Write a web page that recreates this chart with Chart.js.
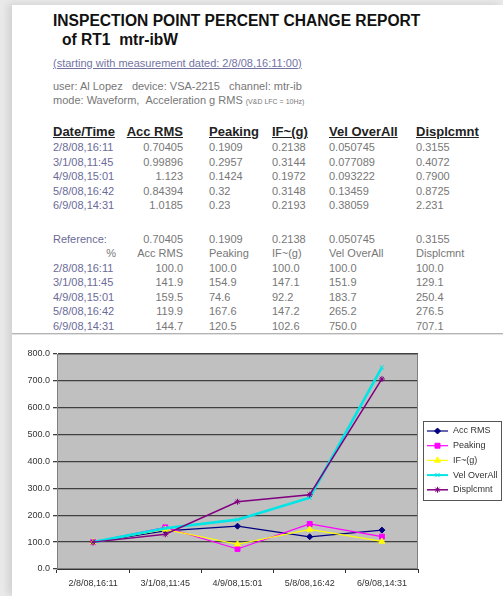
<!DOCTYPE html>
<html lang="en">
<head>
<meta charset="utf-8" />
<title>Inspection point percent change report</title>
<script src="https://cdn.jsdelivr.net/npm/chart.js@4.4.1/dist/chart.umd.min.js"></script>
<style>
  body { margin:0; width:503px; height:596px; position:relative; overflow:hidden;
         background:#e9e9e9; font-family:'Liberation Sans', Arial, sans-serif; }
  #page { position:absolute; left:12px; top:5px; right:0; bottom:0; background:#fff;
          box-shadow:-4px -1px 7px rgba(0,0,0,0.10); }
  .t { position:absolute; white-space:nowrap; line-height:14px; height:14px; font-size:11px; color:#777; }
  .big { font-size:15.6px; font-weight:bold; color:#111; line-height:18px; height:18px; }
  .hd { font-size:13px; font-weight:bold; color:#222; text-decoration:underline; line-height:16px; height:16px; }
  .dt { color:#6b6b98; }
  .ln { color:#7373a3; text-decoration:underline; }
  #rule { position:absolute; left:12px; right:0; top:333px; height:1px; background:#b4b4b4; border-bottom:1px solid #e2e2e2; }
  #chartBox { position:absolute; left:12px; top:340px; width:491px; height:256px; }
</style>
</head>
<body>
<div id="page"></div>
<div id="rule"></div>
<div id="chartBox"><canvas id="pct"></canvas></div>

<script>
// ---- report data ----
var dates = ['2/8/08,16:11', '3/1/08,11:45', '4/9/08,15:01', '5/8/08,16:42', '6/9/08,14:31'];
var columns = ['Acc RMS', 'Peaking', 'IF~(g)', 'Vel OverAll', 'Displcmnt'];
var rawAccRms = ['0.70405', '0.99896', '1.123', '0.84394', '1.0185'];
var rawPeaking = ['0.1909', '0.2957', '0.1424', '0.32', '0.23'];
var rawIfG = ['0.2138', '0.3144', '0.1972', '0.3148', '0.2193'];
var rawVel = ['0.050745', '0.077089', '0.093222', '0.13459', '0.38059'];
var rawDisp = ['0.3155', '0.4072', '0.7900', '0.8725', '2.231'];
var reference = ['0.70405', '0.1909', '0.2138', '0.050745', '0.3155'];

// percent of reference (chart series)
var pctAccRms = [100.0, 141.9, 159.5, 119.9, 144.7];
var pctPeaking = [100.0, 154.9, 74.6, 167.6, 120.5];
var pctIfG = [100.0, 147.1, 92.2, 147.2, 102.6];
var pctVel = [100.0, 151.9, 183.7, 265.2, 750.0];
var pctDisp = [100.0, 129.1, 250.4, 276.5, 707.1];

var yTicks = [0, 100, 200, 300, 400, 500, 600, 700, 800];

// ---- report text ----
function put(str, x, cy, cls, right) {
    var d = document.createElement('div');
    d.className = 't ' + (cls || '');
    d.textContent = str;
    document.body.appendChild(d);
    var h = d.offsetHeight;
    d.style.top = (cy - h / 2) + 'px';
    if (right) d.style.right = (503 - x) + 'px';
    else d.style.left = x + 'px';
    return d;
}

put('INSPECTION POINT PERCENT CHANGE REPORT', 53, 21, 'big');
put('of RT1\u00a0\u00a0mtr-ibW', 62, 40, 'big');
put('(starting with measurement dated: 2/8/08,16:11:00)', 53, 63, 'ln');
put('user: Al Lopez\u00a0\u00a0\u00a0device: VSA-2215\u00a0\u00a0\u00a0channel: mtr-ib', 53, 86);
var mode = put('mode: Waveform,\u00a0\u00a0Acceleration g RMS\u00a0', 53, 100);
var small = document.createElement('span');
small.style.fontSize = '7px';
small.textContent = '(V&D LFC = 10Hz)';
mode.appendChild(small);

var colX = [183, 209, 272, 329, 416];
var rowGap = 14.5;
var raw = [rawAccRms, rawPeaking, rawIfG, rawVel, rawDisp];
var pct = [pctAccRms, pctPeaking, pctIfG, pctVel, pctDisp];

put('Date/Time', 53, 132, 'hd');
columns.forEach(function (c, j) { put(c, colX[j], 132, 'hd', j === 0); });
dates.forEach(function (d, i) {
    var y = 147 + i * rowGap;
    put(d, 53, y, 'dt');
    raw.forEach(function (col, j) { put(col[i], colX[j], y, '', j === 0); });
});

put('Reference:', 53, 239, 'dt');
reference.forEach(function (v, j) { put(v, colX[j], 239, '', j === 0); });
put('%', 116, 253, '', true);
columns.forEach(function (c, j) { put(c, colX[j], 253, '', j === 0); });
dates.forEach(function (d, i) {
    var y = 267.5 + i * rowGap;
    put(d, 53, y, 'dt');
    pct.forEach(function (col, j) { put(col[i].toFixed(1), colX[j], y, '', j === 0); });
});

// ---- chart ----
var plotBg = {
    id: 'plotBg',
    beforeDraw: function (chart) {
        var a = chart.chartArea, ctx = chart.ctx;
        ctx.save();
        ctx.fillStyle = '#c0c0c0';
        ctx.fillRect(a.left, a.top, a.right - a.left, a.bottom - a.top);
        ctx.restore();
    },
    beforeDatasetsDraw: function (chart) {
        var a = chart.chartArea, ctx = chart.ctx;
        ctx.save();
        ctx.strokeStyle = '#808080';
        ctx.lineWidth = 1;
        ctx.strokeRect(a.left + 0.5, a.top + 0.5, a.right - a.left - 1, a.bottom - a.top - 1);
        ctx.restore();
    }
};

// excel style legend: line sample + marker, boxed
var boxLegend = {
    id: 'boxLegend',
    afterDraw: function (chart) {
        var ctx = chart.ctx;
        var left = 411, top = 81, w = 78, h = 79;
        ctx.save();
        ctx.fillStyle = '#fff';
        ctx.fillRect(left, top, w, h);
        ctx.strokeStyle = '#555';
        ctx.lineWidth = 1;
        ctx.strokeRect(left + 0.5, top + 0.5, w, h);
        chart.data.datasets.forEach(function (ds, i) {
            var y = top + 10 + i * 14.7;
            ctx.strokeStyle = ds.borderColor;
            ctx.lineWidth = Math.min(ds.borderWidth, 2);
            ctx.beginPath();
            ctx.moveTo(left + 4, y);
            ctx.lineTo(left + 25, y);
            ctx.stroke();
            ctx.fillStyle = ds.pointBackgroundColor;
            ctx.strokeStyle = ds.pointBorderColor;
            ctx.lineWidth = 1;
            Chart.helpers.drawPoint(ctx, { pointStyle: ds.pointStyle, radius: ds.pointRadius, rotation: 0, borderWidth: 1 }, left + 14.5, y);
            ctx.fillStyle = '#333';
            ctx.font = '9px "Liberation Sans", Arial, sans-serif';
            ctx.textBaseline = 'middle';
            ctx.fillText(ds.label, left + 30, y);
        });
        ctx.restore();
    }
};

function series(label, data, color, width, style, r, order) {
    return {
        label: label, data: data, borderColor: color, borderWidth: width,
        pointStyle: style, pointRadius: r, pointHoverRadius: r,
        pointBackgroundColor: color, pointBorderColor: color, pointBorderWidth: 1,
        fill: false, tension: 0, order: order
    };
}

var ctx = document.getElementById('pct').getContext('2d');
var chart = new Chart(ctx, {
    type: 'line',
    data: {
        labels: dates,
        datasets: [
            series(columns[0], pctAccRms, '#000080', 1.2, 'rectRot', 3, 5),
            series(columns[1], pctPeaking, '#ff00ff', 1.2, 'rect', 3.5, 4),
            series(columns[2], pctIfG, '#ffff00', 1.2, 'triangle', 3.5, 3),
            series(columns[3], pctVel, '#00e5e5', 2.6, 'crossRot', 3, 2),
            series(columns[4], pctDisp, '#800080', 1.5, 'star', 3, 1)
        ]
    },
    options: {
        responsive: true,
        maintainAspectRatio: false,
        animation: false,
        layout: { padding: { top: 14, right: 85, bottom: 0, left: 0 } },
        plugins: { legend: { display: false }, tooltip: { enabled: false } },
        scales: {
            x: {
                offset: true,
                grid: { offset: true, drawOnChartArea: false, drawTicks: true, tickLength: 4, color: '#333' },
                border: { color: '#333' },
                ticks: { color: '#333', font: { size: 9, family: 'Liberation Sans' }, maxRotation: 0, autoSkip: false, padding: 5 },
                afterFit: function (s) { s.height = 27; }
            },
            y: {
                min: 0, max: 800,
                afterBuildTicks: function (s) { s.ticks = yTicks.map(function (v) { return { value: v }; }); },
                ticks: { color: '#333', font: { size: 9, family: 'Liberation Sans' }, padding: 3,
                         callback: function (v) { return Number(v).toFixed(1); } },
                grid: { color: '#404040', lineWidth: 1.3, tickLength: 4 },
                border: { color: '#808080' },
                afterFit: function (s) { s.width = 45; }
            }
        }
    },
    plugins: [plotBg, boxLegend]
});
</script>
</body>
</html>
